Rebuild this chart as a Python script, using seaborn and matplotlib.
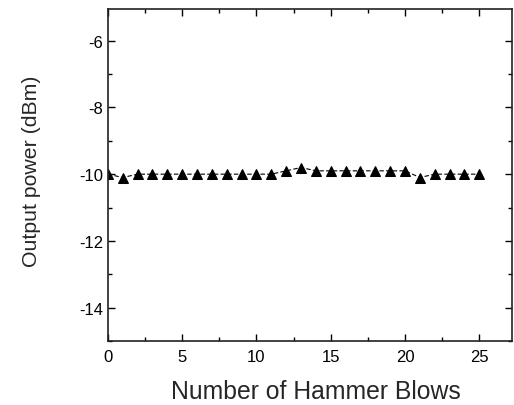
import matplotlib
matplotlib.use("Agg")
import matplotlib.pyplot as plt
import numpy as np
import pandas as pd
import seaborn as sns
from matplotlib.ticker import MultipleLocator

blows = list(range(26))
power = [-10.0, -10.1, -10.0, -10.0, -10.0, -10.0, -10.0, -10.0, -10.0, -10.0,
         -10.0, -10.0, -9.9, -9.8, -9.9, -9.9, -9.9, -9.9, -9.9, -9.9,
         -9.9, -10.1, -10.0, -10.0, -10.0, -10.0]

df = pd.DataFrame({"blows": blows, "power": power})

sns.set_theme(style="ticks")
plt.rcParams["font.family"] = ["Liberation Sans", "DejaVu Sans"]
plt.rcParams["axes.unicode_minus"] = False

fig = plt.figure(figsize=(5.14, 4.06), dpi=100)
ax = fig.add_axes([0.210, 0.158, 0.786, 0.817])

sns.lineplot(data=df, x="blows", y="power", ax=ax, color="black",
             linestyle=(0, (4, 2)), linewidth=0.8, marker="^", markersize=6.5,
             markeredgecolor="black", markerfacecolor="black")

ax.set_xlim(0, 27.2)
ax.set_ylim(-15, -5.05)
ax.xaxis.set_major_locator(MultipleLocator(5))
ax.xaxis.set_minor_locator(MultipleLocator(2.5))
ax.yaxis.set_minor_locator(MultipleLocator(1))
ax.set_yticks([-14, -12, -10, -8, -6])

ax.tick_params(which="both", direction="in", top=True, right=True,
               labelsize=12, colors="black")
ax.tick_params(which="major", length=5, width=1)
ax.tick_params(which="minor", length=3, width=1)
ax.tick_params(axis="x", pad=6)
for s in ax.spines.values():
    s.set_linewidth(1.2)
    s.set_color("#222222")

ax.set_xlabel("Number of Hammer Blows", fontsize=17.8)
ax.set_ylabel("Output power (dBm)", fontsize=15.3)
# label positions (axes coords)
ax.xaxis.set_label_coords(0.515, -0.114)
ax.yaxis.set_label_coords(-0.166, 0.515)

fig.savefig("out.png", dpi=100)
